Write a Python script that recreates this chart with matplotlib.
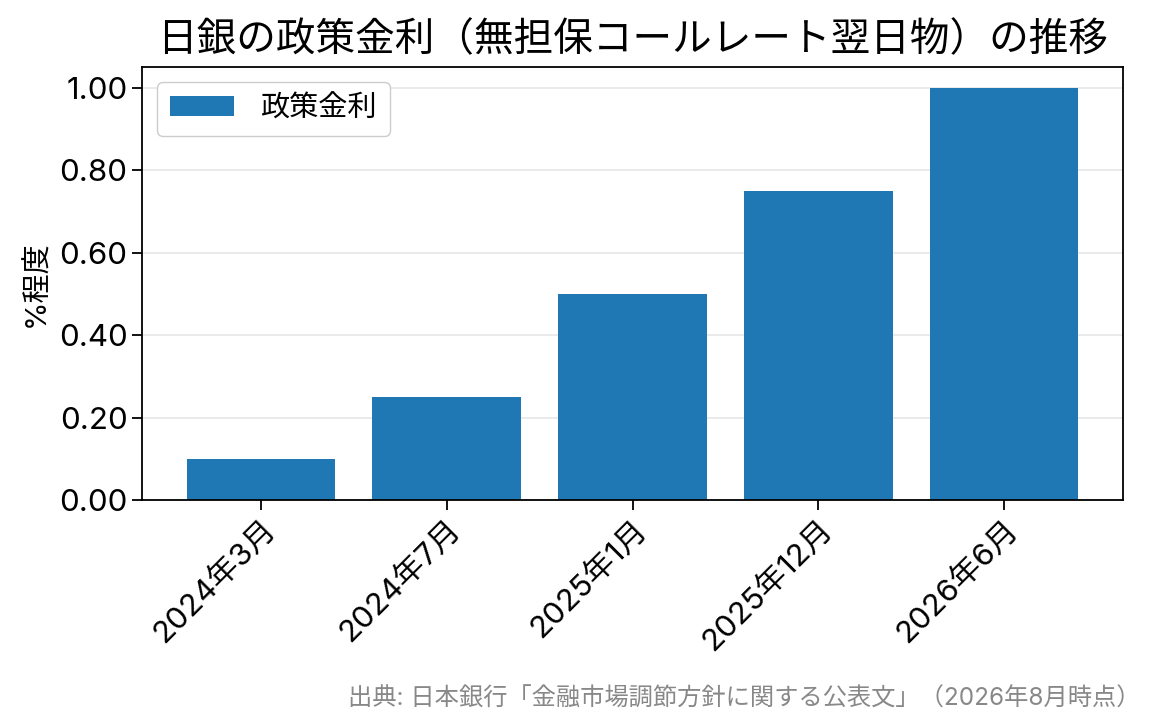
import matplotlib
matplotlib.use("Agg")
import matplotlib.pyplot as plt

plt.rcParams['font.family'] = ['Inter', 'Noto Sans CJK JP']

# data
periods = ['2024年3月', '2024年7月', '2025年1月', '2025年12月', '2026年6月']
rates = [0.10, 0.25, 0.50, 0.75, 1.00]
yticks = [0, 0.2, 0.4, 0.6, 0.8, 1.0]

fig, ax = plt.subplots(figsize=(11.65, 7.25), dpi=100)
fig.subplots_adjust(left=0.122, right=0.964, top=0.907, bottom=0.31)

ax.bar(periods, rates, width=0.8, color='#1f77b4', label='政策金利', zorder=2)
ax.set_ylim(0, 1.05)
ax.set_yticks(yticks)
ax.set_yticklabels([f'{v:.2f}' for v in yticks])
ax.grid(axis='y', color='#e6e6e6', linewidth=1.2, zorder=0)
for s in ax.spines.values():
    s.set_linewidth(1.3)
ax.tick_params(axis='both', labelsize=22.5, length=7, width=1.3)
plt.setp(ax.get_xticklabels(), rotation=45, ha='right', rotation_mode='anchor')

ax.set_ylabel('%程度', fontsize=21, labelpad=6)
ax.set_title('日銀の政策金利（無担保コールレート翌日物）の推移', fontsize=28.5, pad=12)
ax.legend(loc='upper left', fontsize=21, handlelength=2.2, handletextpad=0.9,
          borderpad=0.45, framealpha=1, edgecolor='#cccccc')

fig.text(0.979, 0.02, '出典: 日本銀行「金融市場調節方針に関する公表文」（2026年8月時点）',
         ha='right', va='bottom', fontsize=17.5, color='#888888')

fig.savefig('out.png', dpi=100)
